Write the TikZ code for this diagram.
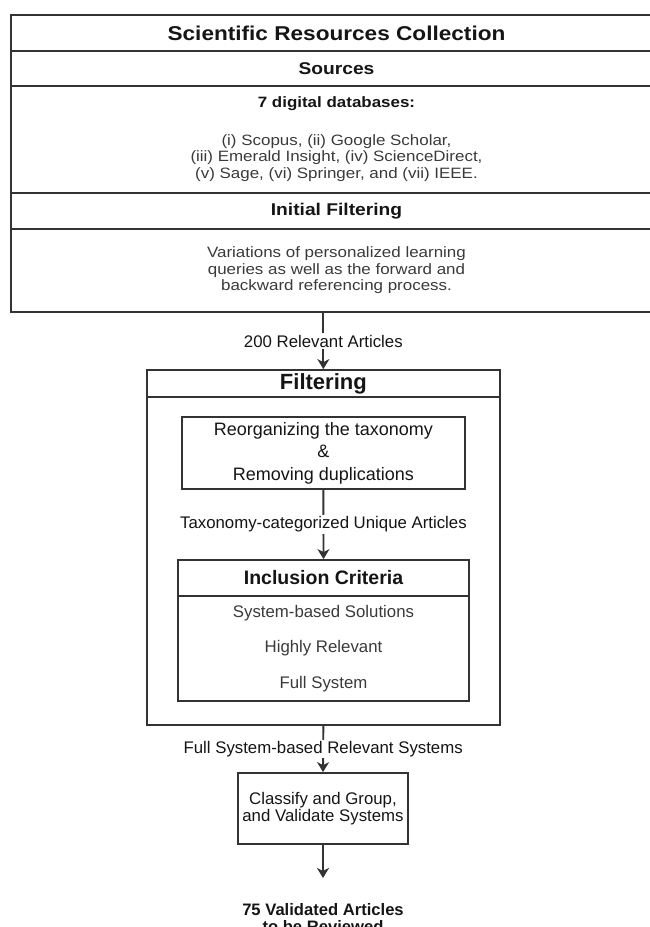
\documentclass[tikz,border=0pt]{standalone}
\usepackage{fontspec}
\setmainfont{Liberation Sans}
\usepackage{graphicx}
\usetikzlibrary{arrows.meta}
\definecolor{lc}{HTML}{333333}
\definecolor{tc}{HTML}{151515}
\definecolor{tg}{HTML}{3A3A3A}
\newcommand{\wx}[1]{\scalebox{1.13}[1]{#1}}
\begin{document}
\begin{tikzpicture}[x=1pt,y=-1pt,
  box/.style={draw=lc, line width=1.8pt, rectangle, inner sep=0pt, align=center, text=tc},
  txt/.style={align=center, inner sep=0pt},
  arr/.style={draw=lc, line width=1.9pt, -{Stealth[length=10pt,width=12pt,inset=3pt]}},
  lbl/.style={fill=white, text=tc, inner sep=1.5pt, font=\fontsize{16.8}{19}\selectfont},
]
\path[use as bounding box] (0,0) rectangle (650,927);
\clip (0,0) rectangle (650,927);

% top block
\node[box, minimum width=651pt, minimum height=35.7pt, font=\bfseries\fontsize{20}{24}\selectfont] (sec1) at (336.5,32.85) {\wx{Scientific Resources Collection}};
\node[box, minimum width=651pt, minimum height=35.3pt, font=\bfseries\fontsize{17}{20}\selectfont] (sec2) at (336.5,68.35) {\wx{Sources}};
\node[box, minimum width=651pt, minimum height=107pt] (sec3) at (336.5,139.5) {};
\node[txt, text=tc, font=\bfseries\fontsize{15}{18}\selectfont] (dbhead) at (336.5,104) {\wx{7 digital databases:}};
\node[txt, text=tg, font=\fontsize{15}{16.5}\selectfont] (dblist) at (336.5,158)
  {\wx{(i) Scopus, (ii) Google Scholar,}\\\wx{(iii) Emerald Insight, (iv) ScienceDirect,}\\\wx{(v) Sage, (vi) Springer, and (vii) IEEE.}};
\node[box, minimum width=651pt, minimum height=36pt, font=\bfseries\fontsize{17}{20}\selectfont] (sec4) at (336.5,211) {\wx{Initial Filtering}};
\node[box, minimum width=651pt, minimum height=83pt, text=tg, font=\fontsize{15}{16.5}\selectfont] (sec5) at (336.5,270.5)
  {\wx{Variations of personalized learning}\\\wx{queries as well as the forward and}\\\wx{backward referencing process.}};

% filtering block
\node[box, minimum width=353.3pt, minimum height=27pt, font=\bfseries\fontsize{22}{26}\selectfont] (ftitle) at (323.35,383.5) {Filtering};
\node[box, minimum width=353.3pt, minimum height=328pt] (fbody) at (323.35,561) {};
\node[box, minimum width=283.3pt, minimum height=72pt, font=\fontsize{18}{22.5}\selectfont] (reorg) at (323.35,453)
  {Reorganizing the taxonomy\\\&\\Removing duplications};
\node[box, minimum width=291pt, minimum height=36pt, font=\bfseries\fontsize{19.5}{23}\selectfont] (incltitle) at (323.5,578) {Inclusion Criteria};
\node[box, minimum width=291pt, minimum height=105pt, text=tg, font=\fontsize{16.8}{35.5}\selectfont] (inclbody) at (323.5,648.5)
  {System-based Solutions\\Highly Relevant\\Full System};

% final steps
\node[box, minimum width=170pt, minimum height=71pt, font=\fontsize{16.8}{17}\selectfont] (classify) at (323,808.5)
  {Classify and Group,\\and Validate Systems};
\coordinate (endpt) at (323,878);
\node[txt, text=tc, font=\bfseries\fontsize{16.6}{16.5}\selectfont] (final) at (323,918)
  {75 Validated Articles\\to be Reviewed};

% connectors
\draw[arr] (ftitle.north |- sec5.south) -- node[lbl] (l1) {200 Relevant Articles} (ftitle.north);
\draw[arr] (reorg.south) -- node[lbl] (l2) {Taxonomy-categorized Unique Articles} (incltitle.north);
\draw[arr] (fbody.south) -- node[lbl] (l3) {Full System-based Relevant Systems} (classify.north);
\draw[arr] (classify.south) -- (endpt);
\end{tikzpicture}
\end{document}
